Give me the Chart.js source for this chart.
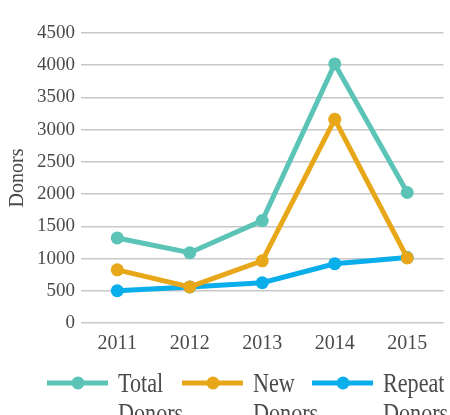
<!DOCTYPE html>
<html>
<head>
<meta charset="utf-8">
<script src="https://cdn.jsdelivr.net/npm/chart.js@4"></script>
<style>
  html, body { margin: 0; padding: 0; background: #ffffff; }
  #wrap { width: 450px; height: 415px; position: relative; }
</style>
</head>
<body>
<div id="wrap"><canvas id="donorChart"></canvas></div>
<script>
const years = ['2011', '2012', '2013', '2014', '2015'];
const totalDonors = [1320, 1090, 1590, 4020, 2025];
const newDonors = [825, 560, 965, 3160, 1010];
const repeatDonors = [500, 560, 625, 920, 1015];
const seriesNames = [['Total', 'Donors'], ['New', 'Donors'], ['Repeat', 'Donors']];

const textColor = '#4a4a4a';
const fontFamily = "'Liberation Serif', 'Times New Roman', serif";

// legend drawn by hand: long line marker with a dot, two-line label
const donorLegend = {
    id: 'donorLegend',
    afterDraw(chart) {
        const ctx = chart.ctx;
        const y = 383;
        const starts = [47, 182, 312];
        chart.data.datasets.forEach((ds, i) => {
            const x0 = starts[i];
            ctx.save();
            ctx.strokeStyle = ds.borderColor;
            ctx.lineWidth = 5;
            ctx.beginPath();
            ctx.moveTo(x0, y);
            ctx.lineTo(x0 + 61, y);
            ctx.stroke();
            ctx.fillStyle = ds.borderColor;
            ctx.beginPath();
            ctx.arc(x0 + 31, y, 6.5, 0, Math.PI * 2);
            ctx.fill();

            ctx.fillStyle = textColor;
            ctx.font = '27px ' + fontFamily;
            ctx.textBaseline = 'alphabetic';
            ctx.translate(x0 + 71, 0);
            ctx.scale(0.82, 1);
            ds.legendLines.forEach((line, k) => {
                ctx.fillText(line, 0, 392 + k * 30);
            });
            ctx.restore();
        });
    }
};

const ctx = document.getElementById('donorChart').getContext('2d');
const donorChart = new Chart(ctx, {
    type: 'line',
    data: {
        labels: years,
        datasets: [{
            label: 'Total Donors',
            legendLines: seriesNames[0],
            data: totalDonors,
            borderColor: '#5bc4b6',
            backgroundColor: '#5bc4b6'
        }, {
            label: 'New Donors',
            legendLines: seriesNames[1],
            data: newDonors,
            borderColor: '#e7a718',
            backgroundColor: '#e7a718'
        }, {
            label: 'Repeat Donors',
            legendLines: seriesNames[2],
            data: repeatDonors,
            borderColor: '#0aaeea',
            backgroundColor: '#0aaeea'
        }]
    },
    options: {
        responsive: true,
        maintainAspectRatio: false,
        animation: false,
        layout: {
            padding: { top: 33, left: 5, right: 0, bottom: 50 }
        },
        elements: {
            line: { borderWidth: 5, tension: 0 },
            point: { radius: 6.5, hoverRadius: 6.5, borderWidth: 0 }
        },
        scales: {
            x: {
                offset: true,
                grid: { display: false, drawTicks: false },
                border: { display: false },
                ticks: {
                    color: textColor,
                    padding: 9,
                    font: { family: fontFamily, size: 20 }
                }
            },
            y: {
                min: 0,
                max: 4500,
                grid: {
                    color: '#c8c8c8',
                    lineWidth: 1.5,
                    drawTicks: false
                },
                border: { display: false },
                ticks: {
                    stepSize: 500,
                    color: textColor,
                    padding: 6,
                    font: { family: fontFamily, size: 19 },
                    callback: function(value) {
                        return String(value);
                    }
                },
                title: {
                    display: true,
                    text: 'Donors',
                    color: textColor,
                    padding: 1,
                    font: { family: fontFamily, size: 20 }
                }
            }
        },
        plugins: {
            legend: { display: false },
            tooltip: { enabled: false }
        }
    },
    plugins: [donorLegend]
});
</script>
</body>
</html>
